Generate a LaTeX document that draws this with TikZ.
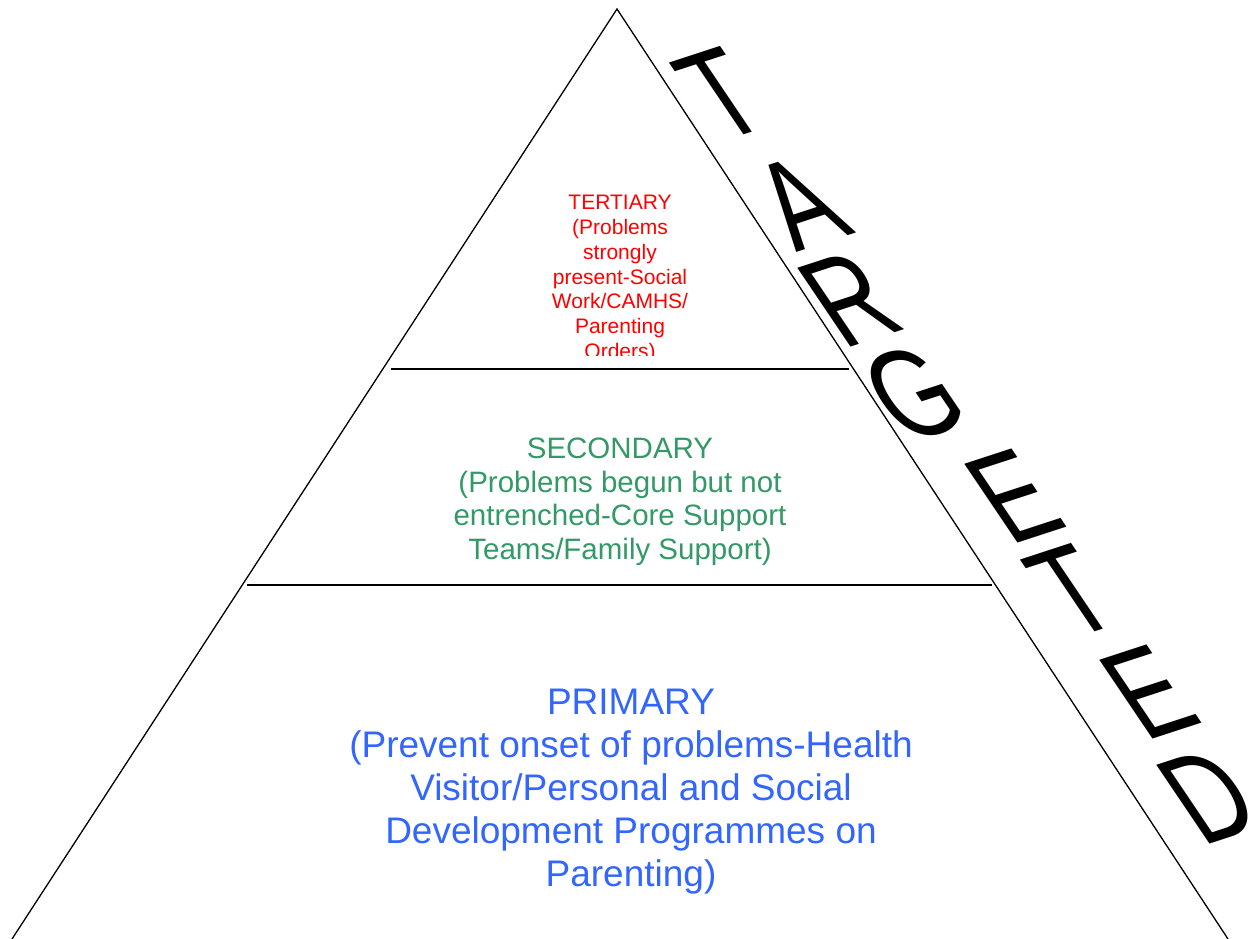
\documentclass[tikz,border=0pt]{standalone}
\usepackage{fontspec}
\setmainfont{Liberation Sans}
\newfontfamily\tgtfont{Liberation Sans}
\definecolor{tercol}{RGB}{255,0,0}
\definecolor{seccol}{RGB}{51,153,102}
\definecolor{pricol}{RGB}{51,102,255}
\begin{document}
\begin{tikzpicture}[x=1pt,y=-1pt,
  edge/.style={draw=black,line width=1.3pt},
  divider/.style={draw=black,line width=1.8pt},
  tertext/.style={text=tercol,align=center,inner sep=0pt,anchor=north,font=\fontsize{21}{24.8}\selectfont},
  sectext/.style={text=seccol,align=center,inner sep=0pt,anchor=north,font=\fontsize{29.5}{33.5}\selectfont},
  pritext/.style={text=pricol,align=center,inner sep=0pt,anchor=north,font=\fontsize{37}{43}\selectfont},
  letter/.style={inner sep=0pt,anchor=center,text=black,font=\tgtfont\fontsize{138}{138}\selectfont,cm={0.655,0.214,-0.56,0.83,(0,0)}}
]
\useasboundingbox (0,0) rectangle (1253,939);
\coordinate (apex) at (617,9);
\coordinate (bl) at (12,939);
\coordinate (br) at (1228,939);
\draw[edge] (bl) -- (apex) -- (br);
\coordinate (d1l) at (391,369);
\coordinate (d1r) at (849,369);
\coordinate (d2l) at (247,585);
\coordinate (d2r) at (992,585);
\draw[divider] (d1l) -- (d1r);
\draw[divider] (d2l) -- (d2r);
\begin{scope}
\clip (380,150) rectangle (860,355);
\node[tertext] (ter) at (620,195) {TERTIARY\\(Problems\\strongly\\present-Social\\Work/CAMHS/\\Parenting\\Orders)};
\end{scope}
\node[sectext] (sec) at (620,438) {SECONDARY\\(Problems begun but not\\entrenched-Core Support\\Teams/Family Support)};
\node[pritext] (pri) at (631,689) {PRIMARY\\(Prevent onset of problems-Health\\Visitor/Personal and Social\\Development Programmes on\\Parenting)};
\node[shift={(722,94)},letter] (t1) at (0,0) {T};
\node[shift={(800,203)},letter] (t2) at (0,0) {A};
\node[shift={(850,299)},letter] (t3) at (0,0) {R};
\node[shift={(914,394)},letter] (t4) at (0,0) {G};
\node[shift={(1014,496)},letter] (t5) at (0,0) {E};
\node[shift={(1073,591)},letter] (t6) at (0,0) {T};
\node[shift={(1149,692)},letter] (t7) at (0,0) {E};
\node[shift={(1209,796)},letter] (t8) at (0,0) {D};
\end{tikzpicture}
\end{document}
